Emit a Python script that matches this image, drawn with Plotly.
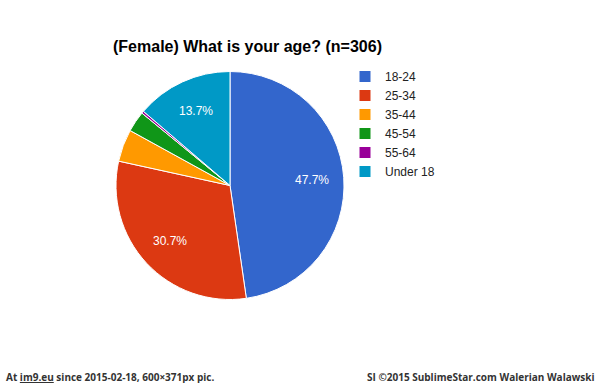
import math
import plotly.graph_objects as go

categories = ["18-24", "25-34", "35-44", "45-54", "55-64", "Under 18"]
counts = [146, 94, 14, 9, 1, 42]
colors = ["#3366cc", "#dc3912", "#ff9900", "#109618", "#990099", "#0099c6"]

W, H = 600, 383
CX, CY, R = 230, 185.5, 114  # pie placement (pixels)
LABEL_R = 0.72  # fraction of radius where slice labels sit
total = sum(counts)

fig = go.Figure()
fig.add_trace(go.Pie(
    labels=categories, values=counts, sort=False, direction="clockwise",
    rotation=0, marker=dict(colors=colors, line=dict(color="white", width=1)),
    textinfo="none",
    domain=dict(x=[(CX - R) / W, (CX + R) / W], y=[1 - (CY + R) / H, 1 - (CY - R) / H]),
    hoverinfo="label+percent",
))

annotations = []
cum = 0
for c in counts:
    frac = c / total
    mid = (cum + frac / 2) * 2 * math.pi
    cum += frac
    if frac > 0.08:
        px = CX + LABEL_R * R * math.sin(mid)
        py = CY - LABEL_R * R * math.cos(mid)
        annotations.append(dict(
            text=f"{frac * 100:.1f}%", x=px / W, y=1 - py / H, xref="paper", yref="paper",
            showarrow=False, xanchor="center", yanchor="middle",
            font=dict(family="Arial, Liberation Sans", size=12, color="white")))

annotations += [
    dict(text="<b>(Female) What is your age? (n=306)</b>", x=247 / W, y=1 - 46 / H,
         xref="paper", yref="paper", showarrow=False, xanchor="center", yanchor="middle",
         font=dict(family="Arial, Liberation Sans", size=16, color="black")),
    dict(text="<b>At <span style='text-decoration:underline'>im9.eu</span> since 2015-02-18, 600×371px pic.</b>",
         x=4 / W, y=1 - 377 / H, xref="paper", yref="paper", showarrow=False,
         xanchor="left", yanchor="middle",
         font=dict(family="Open Sans", size=10, color="#333")),
    dict(text="<b>SI ©2015 SublimeStar.com Walerian Walawski</b>",
         x=597 / W, y=1 - 377 / H, xref="paper", yref="paper", showarrow=False,
         xanchor="right", yanchor="middle",
         font=dict(family="Open Sans", size=10, color="#333")),
]

fig.update_layout(
    width=W, height=H, margin=dict(l=0, r=0, t=0, b=0),
    paper_bgcolor="white", plot_bgcolor="white",
    showlegend=True,
    legend=dict(x=345 / W, y=1 - 62 / H, xanchor="left", yanchor="top",
                font=dict(family="Arial, Liberation Sans", size=12, color="#222"),
                itemwidth=30, tracegroupgap=0, bgcolor="rgba(0,0,0,0)"),
    annotations=annotations,
)

fig.write_html("out.html", config={"displayModeBar": False},
               post_script="document.body.style.margin='0';")
